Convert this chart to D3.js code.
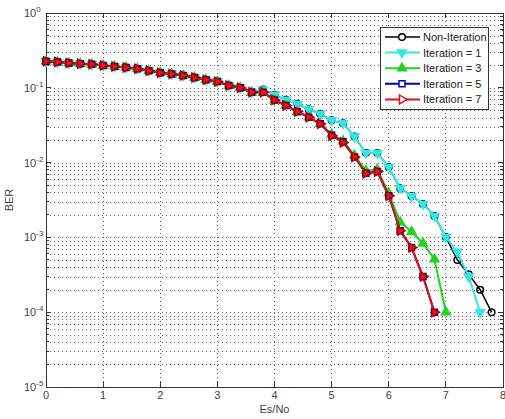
<!DOCTYPE html>
<html>
<head>
<meta charset="utf-8">
<script src="https://cdn.jsdelivr.net/npm/d3@7"></script>
<style>
  body { margin: 0; background: #fff; }
  text { font-family: "Liberation Sans", Arial, sans-serif; }
</style>
</head>
<body>
<script>
// Es/No points (dB)
const esno = [0, 0.2, 0.4, 0.6, 0.8, 1.0, 1.2, 1.4, 1.6, 1.8,
  2.0, 2.2, 2.4, 2.6, 2.8, 3.0, 3.2, 3.4, 3.6, 3.8,
  4.0, 4.2, 4.4, 4.6, 4.8, 5.0, 5.2, 5.4, 5.6, 5.8,
  6.0, 6.2, 6.4, 6.6, 6.8, 7.0, 7.2, 7.4, 7.6, 7.8];

// BER per curve
const berNonIter = [0.226, 0.221, 0.214, 0.210, 0.206, 0.199, 0.193, 0.187, 0.180, 0.169,
  0.159, 0.153, 0.146, 0.137, 0.128, 0.121, 0.107, 0.100, 0.087, 0.095,
  0.0806, 0.069, 0.061, 0.0515, 0.0449, 0.0367, 0.0335, 0.0223, 0.0135, 0.0134,
  0.0087, 0.00454, 0.00358, 0.0028, 0.00193, 0.00101, 0.0005, 0.00032, 0.0002, 0.0001];
const berIter1 = [0.226, 0.221, 0.214, 0.210, 0.206, 0.199, 0.193, 0.187, 0.180, 0.169,
  0.159, 0.153, 0.146, 0.137, 0.128, 0.121, 0.107, 0.100, 0.087, 0.095,
  0.0806, 0.069, 0.061, 0.0515, 0.0449, 0.0367, 0.0335, 0.0223, 0.0135, 0.0134,
  0.0087, 0.00454, 0.00358, 0.0028, 0.00193, 0.00101, 0.00064, 0.0003, 0.0001];
const berIter3 = [0.226, 0.221, 0.214, 0.210, 0.206, 0.199, 0.193, 0.187, 0.180, 0.169,
  0.159, 0.153, 0.146, 0.137, 0.128, 0.121, 0.107, 0.100, 0.087, 0.087,
  0.0685, 0.058, 0.048, 0.0405, 0.033, 0.024, 0.0195, 0.0125, 0.0078, 0.0081,
  0.0039, 0.0016, 0.00119, 0.00083, 0.00051, 0.0001];
const berIter5 = [0.226, 0.221, 0.214, 0.210, 0.206, 0.199, 0.193, 0.187, 0.180, 0.169,
  0.159, 0.153, 0.146, 0.137, 0.128, 0.121, 0.107, 0.100, 0.087, 0.087,
  0.0685, 0.058, 0.048, 0.0405, 0.033, 0.0232, 0.019, 0.0119, 0.0072, 0.0076,
  0.0036, 0.00123, 0.00073, 0.0003, 0.0001];
const berIter7 = [0.226, 0.221, 0.214, 0.210, 0.206, 0.199, 0.193, 0.187, 0.180, 0.169,
  0.159, 0.153, 0.146, 0.137, 0.128, 0.121, 0.107, 0.100, 0.087, 0.087,
  0.0685, 0.058, 0.048, 0.0405, 0.033, 0.0228, 0.0186, 0.0119, 0.0072, 0.0076,
  0.0036, 0.00123, 0.00073, 0.0003, 0.0001];

const xTicks = [0, 1, 2, 3, 4, 5, 6, 7, 8];
const yDecades = [0, -1, -2, -3, -4, -5];
const seriesNames = ["Non-Iteration", "Iteration = 1", "Iteration = 3", "Iteration = 5", "Iteration = 7"];

const series = [
  { name: seriesNames[0], ber: berNonIter, color: "#000000", marker: "circle", width: 1.5, fill: "none" },
  { name: seriesNames[1], ber: berIter1, color: "#33e6e6", marker: "down", width: 2, fill: "#33e6e6" },
  { name: seriesNames[2], ber: berIter3, color: "#22d422", marker: "up", width: 2, fill: "#22d422" },
  { name: seriesNames[3], ber: berIter5, color: "#0000c0", marker: "square", width: 2, fill: "#2233aa" },
  { name: seriesNames[4], ber: berIter7, color: "#e01010", marker: "right", width: 2, fill: "#e81818" }
];

const W = 505, H = 419;
const pLeft = 46, pRight = 503, pTop = 13, pBottom = 387;

const svg = d3.select("body").append("svg")
  .attr("width", W).attr("height", H);

const x = d3.scaleLinear().domain([0, 8]).range([pLeft, pRight]);
const y = d3.scaleLog().domain([1e-5, 1]).range([pBottom, pTop]);

// grid
const grid = svg.append("g").attr("stroke", "#666").attr("stroke-width", 1)
  .attr("stroke-dasharray", "1,3").attr("shape-rendering", "crispEdges");
xTicks.slice(1, -1).forEach(t => {
  grid.append("line").attr("x1", x(t)).attr("x2", x(t)).attr("y1", pTop).attr("y2", pBottom);
});
let yMinor = [];
for (let e = -5; e < 0; e++) {
  for (let m = 1; m <= 9; m++) {
    yMinor.push(m * Math.pow(10, e));
  }
}
yMinor.filter(v => v > 1e-5).forEach(v => {
  grid.append("line").attr("x1", pLeft).attr("x2", pRight)
    .attr("y1", Math.round(y(v)) + 0.5).attr("y2", Math.round(y(v)) + 0.5);
});

// axes box + inward ticks
const axis = svg.append("g").attr("stroke", "#333").attr("stroke-width", 1).attr("shape-rendering", "crispEdges");
axis.append("rect").attr("x", pLeft).attr("y", pTop).attr("width", pRight - pLeft).attr("height", pBottom - pTop)
  .attr("fill", "none");
xTicks.forEach(t => {
  axis.append("line").attr("x1", x(t)).attr("x2", x(t)).attr("y1", pBottom).attr("y2", pBottom - 5);
  axis.append("line").attr("x1", x(t)).attr("x2", x(t)).attr("y1", pTop).attr("y2", pTop + 5);
});
yMinor.forEach(v => {
  const len = (Math.abs(Math.log10(v) - Math.round(Math.log10(v))) < 1e-9) ? 5 : 3;
  axis.append("line").attr("x1", pLeft).attr("x2", pLeft + len).attr("y1", y(v)).attr("y2", y(v));
  axis.append("line").attr("x1", pRight).attr("x2", pRight - len).attr("y1", y(v)).attr("y2", y(v));
});

// tick labels
svg.append("g").selectAll("text").data(xTicks).join("text")
  .attr("x", d => x(d)).attr("y", 399)
  .attr("text-anchor", "middle").attr("font-size", 11).attr("fill", "#444")
  .text(d => d);

const yl = svg.append("g").selectAll("text").data(yDecades).join("text")
  .attr("x", 24).attr("y", d => y(Math.pow(10, d)) + 4)
  .attr("font-size", 11).attr("fill", "#444");
yl.append("tspan").text("10");
yl.append("tspan").attr("dy", -5).attr("font-size", 8).text(d => d);

svg.append("text").attr("x", (pLeft + pRight) / 2).attr("y", 413).attr("text-anchor", "middle")
  .attr("font-size", 11).attr("fill", "#444").text("Es/No");
svg.append("text").attr("transform", `translate(13, ${(pTop + pBottom) / 2}) rotate(-90)`)
  .attr("text-anchor", "middle").attr("font-size", 11).attr("fill", "#444").text("BER");

// marker shapes
function markerPath(kind) {
  if (kind === "circle") return d3.symbol().type(d3.symbolCircle).size(34)();
  if (kind === "square") return d3.symbol().type(d3.symbolSquare).size(36)();
  return d3.symbol().type(d3.symbolTriangle).size(34)();
}
function markerRot(kind) {
  return { down: 180, right: 90, up: 0 }[kind] || 0;
}

const plot = svg.append("g");
const line = d3.line().x(d => x(d[0])).y(d => y(d[1]));

series.forEach(s => {
  const pts = s.ber.map((b, i) => [esno[i], b]);
  plot.append("path").datum(pts).attr("d", line)
    .attr("fill", "none").attr("stroke", s.color).attr("stroke-width", s.width);
  plot.selectAll(null).data(pts).join("path")
    .attr("d", markerPath(s.marker))
    .attr("transform", d => `translate(${x(d[0])},${y(d[1])}) rotate(${markerRot(s.marker)})`)
    .attr("fill", s.fill).attr("stroke", s.marker === "right" ? "#a00" : s.color).attr("stroke-width", 1.5);
});

// legend
const lg = svg.append("g");
lg.append("rect").attr("x", 380.5).attr("y", 27.5).attr("width", 108).attr("height", 82)
  .attr("fill", "#fff").attr("stroke", "#333");
series.forEach((s, i) => {
  const ly = 37 + i * 15.6;
  const hollow = s.marker === "circle" || s.marker === "square" || s.marker === "right";
  lg.append("line").attr("x1", 385).attr("x2", 420).attr("y1", ly).attr("y2", ly)
    .attr("stroke", s.color).attr("stroke-width", s.width);
  lg.append("path").attr("d", markerPath(s.marker))
    .attr("transform", `translate(402,${ly}) rotate(${markerRot(s.marker)})`)
    .attr("fill", hollow ? "#fff" : s.fill).attr("stroke", s.color).attr("stroke-width", 1.5);
  lg.append("text").attr("x", 423).attr("y", ly + 4).attr("font-size", 11).attr("fill", "#222")
    .text(s.name);
});
</script>
</body>
</html>
